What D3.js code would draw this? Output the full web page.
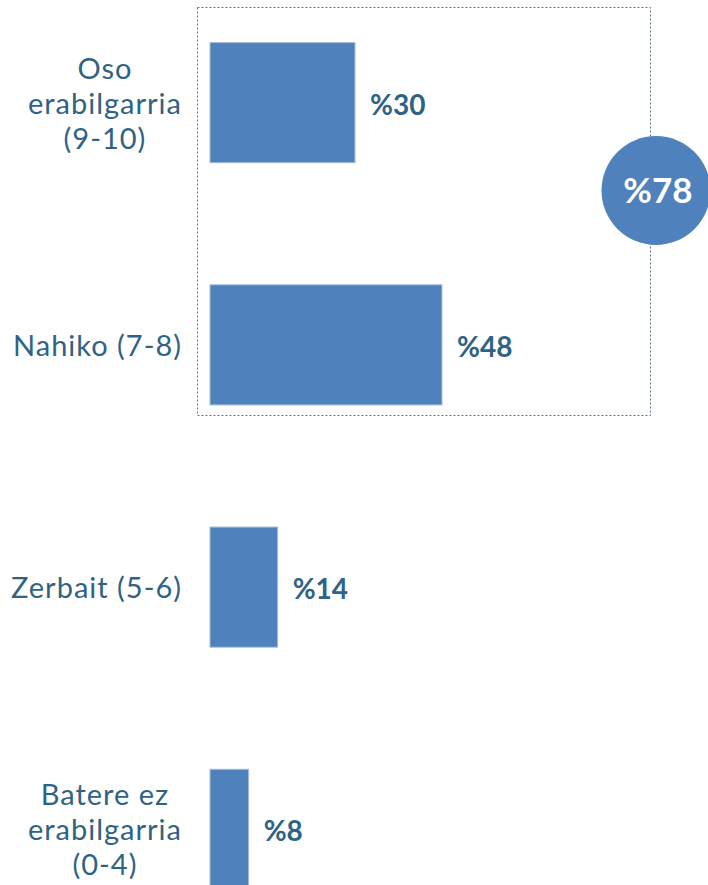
<!DOCTYPE html>
<html><head><meta charset="utf-8">
<script src="https://cdn.jsdelivr.net/npm/d3@7"></script>
<style>body{margin:0;background:#fff;overflow:hidden}svg{display:block}</style>
</head><body>
<svg id="c" width="708" height="885"></svg>
<script>
const categories = [["Oso","erabilgarria","(9-10)"],["Nahiko (7-8)"],["Zerbait (5-6)"],["Batere ez","erabilgarria","(0-4)"]];
const values = [30,48,14,8];
const valueLabels = ["%30","%48","%14","%8"];
const totalLabel = "%78";

const svg = d3.select("#c");
const font = "Lato, 'Open Sans', sans-serif";
const textColor = "#2F6384";
const barColor = "#4F81BD";

const x = d3.scaleLinear().domain([0,48]).range([210,442]);
const y = d3.scaleBand().domain(d3.range(values.length)).range([-18,950]).paddingInner(0.504).paddingOuter(0.25);

// dotted box around top two
svg.append("rect").attr("x",197.5).attr("y",7.5).attr("width",453).attr("height",408)
  .attr("fill","none").attr("stroke","#5E7391").attr("stroke-width",1).attr("stroke-dasharray","2,2");

svg.selectAll("rect.bar").data(values).join("rect").attr("class","bar")
  .attr("x",x(0)).attr("y",(d,i)=>y(i)).attr("width",d=>x(d)-x(0)).attr("height",y.bandwidth())
  .attr("fill",barColor).attr("stroke","#A7BEDD").attr("stroke-width",1);

svg.selectAll("text.val").data(values).join("text").attr("class","val")
  .attr("x",d=>x(d)+15).attr("y",(d,i)=>y(i)+y.bandwidth()/2+12)
  .attr("font-family",font).attr("font-weight","bold").attr("font-size",28)
  .attr("fill",textColor).text((d,i)=>valueLabels[i]);

const lh = 35;
categories.forEach((lines,i)=>{
  const cy = y(i)+y.bandwidth()/2;
  const g = svg.append("g");
  const ts = lines.map((l,j)=>g.append("text")
    .attr("y",cy+11+(j-(lines.length-1)/2)*lh)
    .attr("font-family",font).attr("font-weight",400).attr("font-size",29).attr("letter-spacing",1)
    .attr("fill",textColor).attr("text-anchor","middle").text(l));
  const maxW = d3.max(ts,t=>t.node().getComputedTextLength());
  ts.forEach(t=>t.attr("x",182-maxW/2));
});

svg.append("circle").attr("cx",656).attr("cy",190.5).attr("r",54.5).attr("fill",barColor);
svg.append("text").attr("x",658).attr("y",203).attr("text-anchor","middle")
  .attr("font-family",font).attr("font-weight","bold").attr("font-size",35).attr("fill","#fff").text(totalLabel);
</script>
</body></html>
